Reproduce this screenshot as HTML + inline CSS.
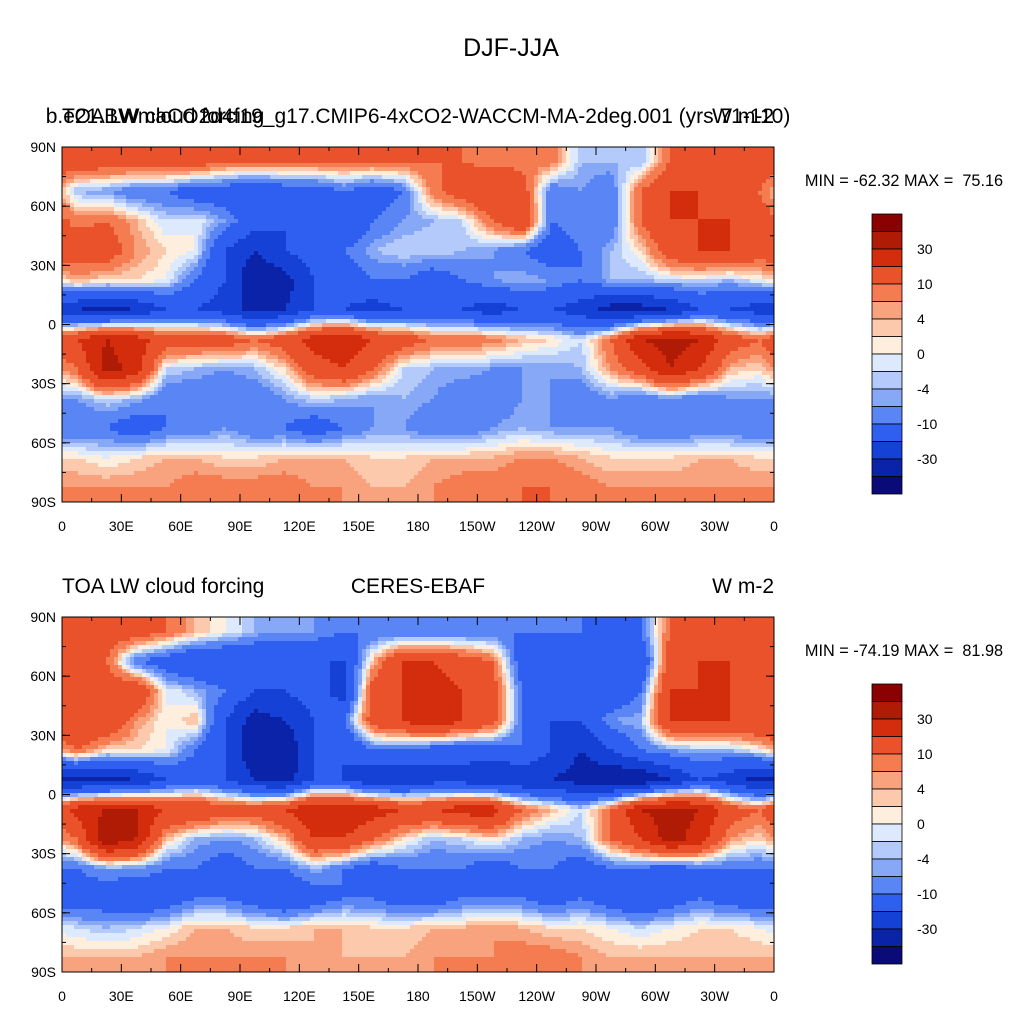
<!DOCTYPE html>
<html><head><meta charset="utf-8">
<style>
body{margin:0;background:#fff;}
svg text{font-family:"Liberation Sans",sans-serif;fill:#000;white-space:pre;}
</style></head>
<body>
<svg id="fig" width="1024" height="1024" viewBox="0 0 1024 1024" xmlns="http://www.w3.org/2000/svg">
<defs>
<clipPath id="clipTop"><rect x="62" y="147" width="712" height="355"/></clipPath>
<clipPath id="clipBot"><rect x="62" y="617" width="712" height="355"/></clipPath>
</defs>
<rect width="1024" height="1024" fill="#fff"/>
<text x="511" y="56" font-size="25" text-anchor="middle">DJF-JJA</text>
<g id="panels"></g>
</svg>
<script>
const levels=[-45,-30,-20,-10,-6,-4,-2,0,2,4,6,10,20,30,45];
const palette=["#0a0a78","#0a23a8","#1541d6","#2f5ff0","#5a86f5","#86a8f7","#b3cafa","#dde9fc","#fdeede","#fcc9ad","#f9a27e","#f47c50","#e9522a","#d42d0e","#b01b05","#8b0000"];
const cbLabels=["30","10","4","0","-4","-10","-30"];
const latLabels=["90N","60N","30N","0","30S","60S","90S"];
const lonLabels=["0","30E","60E","90E","120E","150E","180","150W","120W","90W","60W","30W","0"];
const modelField=[
[15,15,15,15,15,10,10,10,10,10,10,10,10,10,8,8,8,-4,-4,-4,10,15,15,15],
[-4,-6,-10,-10,-15,-15,-20,-15,-15,-10,-15,-10,8,15,20,15,-10,-6,-10,10,20,20,15,10],
[8,10,4,-2,0,-6,-15,-20,-15,-20,-10,-6,-4,-2,10,20,-10,-6,-10,10,20,20,20,15],
[15,15,6,2,0,-20,-30,-20,-15,-10,-4,-2,-2,-4,-6,-10,-15,-10,-4,2,15,20,20,15],
[4,2,2,0,-10,-20,-40,-35,-20,-15,-10,-10,-15,-10,-6,-4,-6,-10,-4,-4,-2,-2,-4,0],
[-30,-35,-30,-20,-20,-25,-35,-30,-20,-20,-25,-20,-20,-20,-25,-20,-20,-25,-35,-35,-30,-20,-20,-25],
[20,30,25,15,15,15,10,15,25,30,20,15,10,10,8,4,2,-2,10,30,35,30,15,10],
[10,35,25,-2,-4,-6,-4,2,15,20,10,-2,-4,-4,-6,-6,-6,-4,6,15,30,20,4,2],
[-6,-2,-4,-10,-10,-10,-10,-6,-2,-4,-6,-4,-6,-10,-10,-6,-6,-10,-6,-10,-6,-10,-6,-6],
[-10,-10,-15,-10,-10,-6,-10,-10,-15,-10,-6,-6,-10,-10,-6,-4,-6,-6,-6,-10,-10,-10,-10,-10],
[2,0,2,4,4,2,2,4,4,4,2,2,4,4,4,6,6,4,2,2,2,4,4,2],
[6,6,6,6,8,8,8,8,6,6,4,4,6,8,8,10,10,8,6,6,6,6,6,6]];
const obsField=[
[15,15,15,10,4,0,-4,-6,-6,-10,-10,-10,-10,-10,-10,-10,-10,-10,-15,-10,10,15,15,15],
[15,10,-10,-15,-20,-20,-20,-20,-20,-20,4,20,20,15,10,-15,-20,-20,-15,-20,15,20,20,15],
[10,15,20,0,-4,-10,-20,-20,-15,-25,15,20,25,20,15,-10,-15,-10,-20,-10,20,20,20,15],
[20,20,6,0,4,-20,-35,-30,-20,-10,15,20,30,20,15,-10,-20,-20,-6,-4,20,20,20,20],
[10,2,2,0,-10,-20,-40,-40,-20,-20,-10,-10,-15,-15,-15,-10,-20,-30,-20,-10,-6,-4,-4,0],
[-35,-35,-30,-20,-15,-20,-30,-35,-20,-20,-30,-30,-25,-25,-30,-30,-30,-35,-40,-40,-30,-20,-25,-35],
[25,30,30,20,20,15,15,20,30,30,25,20,20,25,25,10,4,-2,10,30,35,30,15,10],
[10,40,30,4,-4,-6,-4,4,20,20,10,2,-4,-2,2,-4,-6,-4,10,20,35,25,6,2],
[-10,-6,-6,-10,-10,-15,-10,-10,-4,-10,-15,-10,-10,-10,-15,-10,-10,-15,-10,-10,-15,-10,-10,-10],
[-15,-15,-20,-15,-10,-10,-15,-20,-15,-10,-10,-15,-15,-10,-10,-10,-15,-10,-15,-20,-15,-10,-15,-15],
[-2,-4,-2,0,4,4,2,2,4,4,2,2,4,4,6,4,2,2,0,-2,0,2,2,0],
[4,4,4,6,6,6,6,6,4,4,4,4,6,6,6,8,8,6,4,4,4,4,4,4]];

const NS="http://www.w3.org/2000/svg";
const root=document.getElementById('panels');
function mk(tag,attrs,parent){const e=document.createElementNS(NS,tag);for(const k in attrs)e.setAttribute(k,attrs[k]);(parent||root).appendChild(e);return e;}
function colorOf(v){let i=0;while(i<levels.length&&v>=levels[i])i++;return palette[i];}
const X0=62,X1=774,W=X1-X0,H=355;
function xScale(lon){return X0+lon/360*W;}
function sample(f,lat,lon){
  const rows=f.length,cols=f[0].length;
  let r=(90-lat)/180*rows-0.5; r=Math.max(0,Math.min(rows-1,r));
  let c=lon/360*cols-0.5;
  const r0=Math.floor(r),r1=Math.min(rows-1,r0+1),fr=r-r0;
  const c0f=Math.floor(c),fc=c-c0f;
  const c0=((c0f%cols)+cols)%cols,c1=(c0+1)%cols;
  const a=f[r0][c0]*(1-fc)+f[r0][c1]*fc,b=f[r1][c0]*(1-fc)+f[r1][c1]*fc;
  return a*(1-fr)+b*fr;
}
function panel(f,Y0,tl,tc,tr,minmax,name,clip){
  const g=mk('g',{});
  
  
  const yScale=lat=>Y0+(90-lat)/180*H;
  const field=mk('g',{'clip-path':'url(#'+clip+')'},g);
  
  
  const step=4;
  for(let py=0;py<H;py+=step){for(let px=0;px<W;px+=step){
    const lon=(px+step/2)/W*360,lat=90-(py+step/2)/H*180;
    mk('rect',{x:X0+px,y:Y0+py,width:step+0.5,height:step+0.5,fill:colorOf(sample(f,lat,lon))},field);
  }}
  const frame=mk('rect',{x:X0,y:Y0,width:W,height:H,fill:'none',stroke:'#000','stroke-width':1},g);
  
  
  latLabels.forEach((t,i)=>{const lat=90-i*30,y=yScale(lat);
    const tx=mk('text',{x:X0-6,y:y+5,'font-size':14,'text-anchor':'end'},g);tx.textContent=t;
    
    
    mk('line',{x1:X0,x2:X0+8,y1:y,y2:y,stroke:'#000'},g);mk('line',{x1:X1,x2:X1-8,y1:y,y2:y,stroke:'#000'},g);});
  for(let lat=-75;lat<90;lat+=15){const y=yScale(lat);mk('line',{x1:X0,x2:X0+4,y1:y,y2:y,stroke:'#000'},g);mk('line',{x1:X1,x2:X1-4,y1:y,y2:y,stroke:'#000'},g);}
  lonLabels.forEach((t,i)=>{const x=xScale(i*30);
    const tx=mk('text',{x:x,y:Y0+H+29,'font-size':14,'text-anchor':'middle'},g);tx.textContent=t;
    
    
    mk('line',{x1:x,x2:x,y1:Y0+H,y2:Y0+H-8,stroke:'#000'},g);mk('line',{x1:x,x2:x,y1:Y0,y2:Y0+8,stroke:'#000'},g);});
  for(let l=15;l<360;l+=30){const x=xScale(l);mk('line',{x1:x,x2:x,y1:Y0+H,y2:Y0+H-4,stroke:'#000'},g);mk('line',{x1:x,x2:x,y1:Y0,y2:Y0+4,stroke:'#000'},g);}
  const t1=mk('text',{x:X0,y:Y0-24,'font-size':21},g);t1.textContent=tl;
  
  
  const t2=mk('text',{x:(X0+X1)/2,y:Y0-24,'font-size':21,'text-anchor':'middle'},g);t2.textContent=tc;
  
  
  const t3=mk('text',{x:X1,y:Y0-24,'font-size':21,'text-anchor':'end'},g);t3.textContent=tr;
  
  
  const mm=mk('text',{x:904,y:Y0+39,'font-size':16.3,'text-anchor':'middle'},g);mm.textContent=minmax;
  
  
  const cb=mk('g',{},g);
  
  
  const cbTop=Y0+67,bh=17.5;
  for(let i=0;i<palette.length;i++){
    const r=mk('rect',{x:872,y:cbTop+i*bh,width:30,height:bh,fill:palette[palette.length-1-i],stroke:'#000','stroke-width':0.8},cb);
    
    
  }
  cbLabels.forEach((t,i)=>{const tx=mk('text',{x:917,y:cbTop+(2+2*i)*bh+5,'font-size':14},cb);tx.textContent=t;
    
    });
}
panel(modelField,147,"TOA LW cloud forcing","b.e21.BWmaCO2d4f19_g17.CMIP6-4xCO2-WACCM-MA-2deg.001 (yrs 71-110)","W m-2","MIN = -62.32 MAX =  75.16","model-panel","clipTop");
panel(obsField,617,"TOA LW cloud forcing","CERES-EBAF","W m-2","MIN = -74.19 MAX =  81.98","obs-panel","clipBot");
</script>
</body></html>
